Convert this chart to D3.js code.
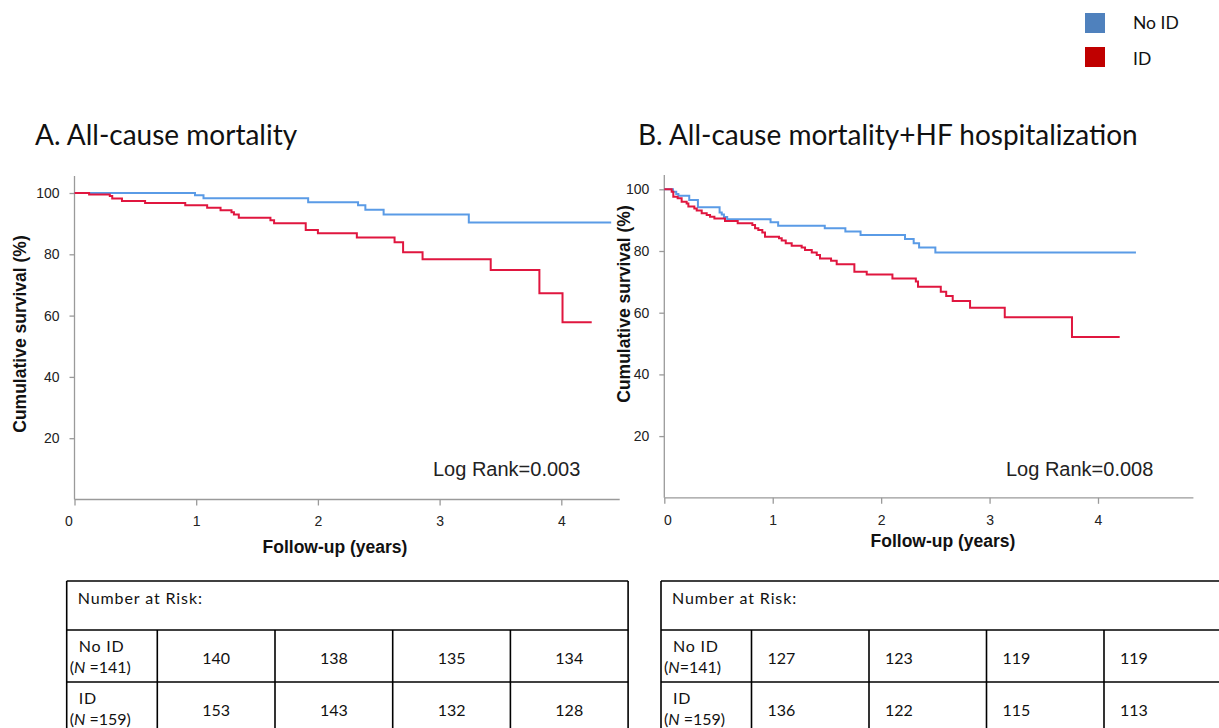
<!DOCTYPE html>
<html>
<head>
<meta charset="utf-8">
<script src="https://cdn.jsdelivr.net/npm/d3@7"></script>
<style>
  html, body { margin: 0; padding: 0; background: #fff; }
  svg { display: block; }
</style>
</head>
<body>
<svg id="chart" width="1219" height="728"></svg>
<script>
// ---------------- DATA ----------------
// Panel A: All-cause mortality (time in years, cumulative survival %)
const aNoIdTime = [0, 0.99, 1.06, 1.92, 2.33, 2.39, 2.54, 3.24, 4.41];
const aNoIdSurv = [100, 99.3, 98.3, 97.0, 96.0, 94.5, 93.0, 90.4, 90.4];
const aIdTime = [0, 0.12, 0.29, 0.31, 0.39, 0.58, 0.91, 1.09, 1.20, 1.29, 1.31, 1.35, 1.61, 1.64, 1.90, 2.00, 2.32, 2.63, 2.70, 2.86, 3.42, 3.82, 4.01, 4.25];
const aIdSurv = [100, 99.5, 99.0, 98.2, 97.4, 96.7, 96.0, 95.2, 94.4, 93.7, 93.0, 91.9, 91.1, 90.1, 87.9, 86.9, 85.5, 83.9, 80.7, 78.4, 74.9, 67.3, 57.8, 57.8];

// Panel B: All-cause mortality + HF hospitalization
const bNoIdTime = [0, 0.08, 0.11, 0.13, 0.23, 0.31, 0.51, 0.53, 0.55, 0.58, 0.98, 1.05, 1.48, 1.67, 1.81, 2.22, 2.30, 2.35, 2.50, 4.35];
const bNoIdSurv = [100, 99.2, 98.5, 97.9, 96.5, 94.2, 92.5, 91.8, 91.0, 90.3, 89.3, 88.2, 87.4, 86.3, 85.2, 83.9, 82.5, 81.1, 79.5, 79.5];
const bIdTime = [0, 0.068, 0.083, 0.123, 0.16, 0.206, 0.222, 0.277, 0.299, 0.345, 0.391, 0.422, 0.462, 0.56, 0.677, 0.812, 0.837, 0.867, 0.904, 0.929, 1.058, 1.083, 1.12, 1.175, 1.267, 1.298, 1.36, 1.406, 1.436, 1.538, 1.59, 1.753, 1.867, 2.104, 2.32, 2.34, 2.55, 2.60, 2.66, 2.82, 3.14, 3.76, 4.20];
const bIdSurv = [100, 99.2, 97.6, 97.1, 96.0, 95.4, 94.4, 93.8, 93.1, 92.2, 91.7, 91.1, 90.5, 89.7, 89.0, 88.4, 87.4, 86.8, 86.0, 84.6, 84.1, 83.4, 82.5, 81.7, 81.1, 80.3, 79.5, 78.7, 77.6, 76.8, 75.7, 73.3, 72.4, 71.1, 70.1, 68.4, 66.8, 65.4, 63.8, 61.6, 58.5, 52.1, 52.1];

const xTicks = [0, 1, 2, 3, 4];
const yTicks = [20, 40, 60, 80, 100];

const seriesNames = ["No ID", "ID"];
const legendColors = ["#4F81BD", "#C00000"];
const curveColors = ["#5A9BE6", "#E0163F"];

const titleA = "A. All-cause mortality";
const titleB = "B. All-cause mortality+HF hospitalization";
const logRankA = "Log Rank=0.003";
const logRankB = "Log Rank=0.008";
const xTitle = "Follow-up (years)";
const yTitle = "Cumulative survival (%)";

const riskHeader = "Number at Risk:";
const riskGroups = ["No ID", "ID"];
const riskN = ["141", "159"];
const riskA_noId = [140, 138, 135, 134];
const riskA_id = [153, 143, 132, 128];
const riskB_noId = [127, 123, 119, 119];
const riskB_id = [136, 122, 115, 113];

// ---------------- DRAW ----------------
const svg = d3.select("#chart");
const axisColor = "#9a9a9a";
const tickFont = "'Liberation Sans', Arial, sans-serif";
const calibriLike = "Lato, 'Open Sans', sans-serif";

function panel(cfg) {
  const x = d3.scaleLinear().domain([0, 4]).range([cfg.x0, cfg.x4]);
  const y = d3.scaleLinear().domain([0, 100]).range([cfg.y0, cfg.y100]);
  const g = svg.append("g");

  // axis lines
  g.append("line")
    .attr("x1", x(0)).attr("x2", x(0))
    .attr("y1", cfg.yTop).attr("y2", y(0))
    .attr("stroke", axisColor).attr("stroke-width", 1.3);
  g.append("line")
    .attr("x1", x(0)).attr("x2", x(cfg.xMax))
    .attr("y1", y(0)).attr("y2", y(0))
    .attr("stroke", axisColor).attr("stroke-width", 1.3);

  const yAxis = g.append("g")
    .attr("transform", `translate(${x(0)},0)`)
    .call(d3.axisLeft(y).tickValues(yTicks).tickSize(5).tickPadding(10));
  const xAxis = g.append("g")
    .attr("transform", `translate(0,${y(0)})`)
    .call(d3.axisBottom(x).tickValues(xTicks).tickSize(6).tickPadding(11).tickFormat(d3.format("d")));
  [yAxis, xAxis].forEach(a => {
    a.select(".domain").remove();
    a.selectAll(".tick line").attr("stroke", axisColor).attr("stroke-width", 1.3);
    a.selectAll(".tick text").attr("fill", "#222")
      .style("font-family", tickFont).style("font-size", "14px");
  });
  xAxis.selectAll(".tick text").filter(d => d === 0).attr("dx", cfg.zeroDx);

  // curves
  const line = d3.line().curve(d3.curveStepAfter).x(d => x(d[0])).y(d => y(d[1]));
  cfg.series.forEach((s, i) => {
    const pts = s.t.map((t, k) => [t, s.v[k]]);
    g.append("path").datum(pts)
      .attr("d", line)
      .attr("fill", "none")
      .attr("stroke", curveColors[i])
      .attr("stroke-width", 2);
  });

  // axis titles
  g.append("text")
    .attr("x", cfg.xTitleX).attr("y", cfg.xTitleY)
    .attr("text-anchor", "middle")
    .style("font-family", tickFont).style("font-weight", "bold").style("font-size", "17.5px")
    .attr("fill", "#111")
    .text(xTitle);
  g.append("text")
    .attr("transform", `translate(${cfg.yTitleX},${cfg.yTitleY}) rotate(-90)`)
    .attr("text-anchor", "middle")
    .style("font-family", tickFont).style("font-weight", "bold").style("font-size", "17.5px")
    .attr("fill", "#111")
    .text(yTitle);

  // log rank
  g.append("text")
    .attr("x", cfg.lrX).attr("y", cfg.lrY)
    .style("font-family", tickFont).style("font-size", "20px")
    .attr("fill", "#222")
    .text(cfg.logRank);

  // title
  svg.append("text")
    .attr("x", cfg.titleX).attr("y", 145)
    .style("font-family", calibriLike).style("font-size", "28px")
    .attr("fill", "#111")
    .text(cfg.title);
}

panel({
  x0: 74.5, x4: 561.3, xMax: 4.48, y0: 499.5, y100: 193, yTop: 176,
  zeroDx: -6,
  series: [{ t: aNoIdTime, v: aNoIdSurv }, { t: aIdTime, v: aIdSurv }],
  xTitleX: 335, xTitleY: 553, yTitleX: 26, yTitleY: 334,
  lrX: 433, lrY: 476, logRank: logRankA,
  titleX: 35, title: titleA
});
panel({
  x0: 664.3, x4: 1098, xMax: 4.88, y0: 497.8, y100: 189.3, yTop: 175,
  zeroDx: 3,
  series: [{ t: bNoIdTime, v: bNoIdSurv }, { t: bIdTime, v: bIdSurv }],
  xTitleX: 943, xTitleY: 547, yTitleX: 630, yTitleY: 304,
  lrX: 1006, lrY: 476, logRank: logRankB,
  titleX: 638, title: titleB
});

// legend
const lg = svg.append("g");
seriesNames.forEach((name, i) => {
  lg.append("rect").attr("x", 1085).attr("y", 13 + i * 34).attr("width", 20).attr("height", 20)
    .attr("fill", legendColors[i]);
  lg.append("text").attr("x", 1133).attr("y", 29 + i * 36)
    .style("font-family", calibriLike).style("font-size", "17.5px").attr("fill", "#111")
    .text(name);
});

// risk tables
function riskTable(cfg) {
  const g = svg.append("g");
  const rowY = [581, 630, 682, 734];
  const colX = [cfg.left, cfg.firstCol];
  for (let i = 1; i <= 4; i++) colX.push(cfg.firstCol + i * cfg.colW);
  const right = colX[colX.length - 1];
  const sw = 1.6;
  rowY.forEach(yy => g.append("line").attr("x1", cfg.left).attr("x2", right)
    .attr("y1", yy).attr("y2", yy).attr("stroke", "#000").attr("stroke-width", sw));
  [cfg.left, right].forEach(xx => g.append("line").attr("x1", xx).attr("x2", xx)
    .attr("y1", rowY[0]).attr("y2", rowY[3]).attr("stroke", "#000").attr("stroke-width", sw));
  colX.slice(1, -1).forEach(xx => g.append("line").attr("x1", xx).attr("x2", xx)
    .attr("y1", rowY[1]).attr("y2", rowY[3]).attr("stroke", "#000").attr("stroke-width", sw));

  const font = s => sel => sel.style("font-family", calibriLike).style("font-size", s).attr("fill", "#111");
  g.append("text").attr("x", cfg.left + 11).attr("y", 604).call(font("16px"))
    .style("letter-spacing", "0.9px").text(riskHeader);

  [cfg.noId, cfg.id].forEach((vals, r) => {
    const top = rowY[r + 1];
    g.append("text").attr("x", cfg.left + 12).attr("y", top + 22).call(font("16px"))
      .style("letter-spacing", "0.8px").text(riskGroups[r]);
    const t2 = g.append("text").attr("x", cfg.left + 3).attr("y", top + 43).call(font("16px"));
    t2.append("tspan").text("(");
    t2.append("tspan").style("font-style", "italic").text("N");
    t2.append("tspan").text(cfg.nSep[r] + riskN[r] + ")");
    vals.forEach((v, c) => {
      const cx = cfg.center ? (colX[c + 1] + colX[c + 2]) / 2 : colX[c + 1] + 16;
      g.append("text").attr("x", cx).attr("y", top + 33.5)
        .attr("text-anchor", cfg.center ? "middle" : "start")
        .call(font("16px")).text(v);
    });
  });
}
riskTable({ left: 66.7, firstCol: 157.3, colW: 117.7, center: true, noId: riskA_noId, id: riskA_id, nSep: [" =", " ="] });
riskTable({ left: 661, firstCol: 751.5, colW: 117.5, center: false, noId: riskB_noId, id: riskB_id, nSep: ["=", " ="] });
</script>
</body>
</html>
